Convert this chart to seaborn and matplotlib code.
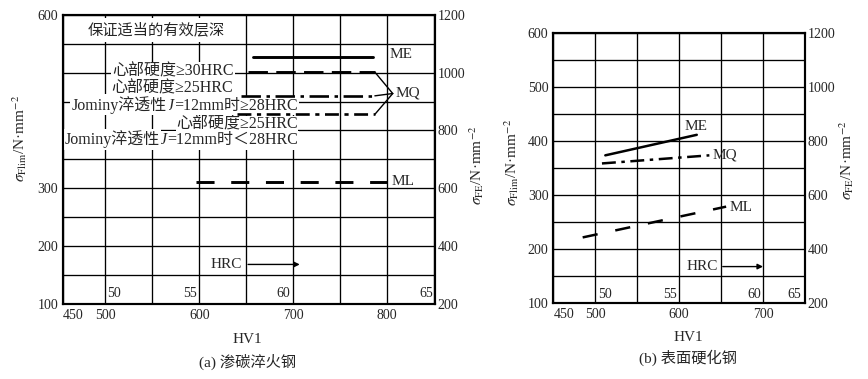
import matplotlib
matplotlib.use("Agg")
import matplotlib.pyplot as plt
from matplotlib.ticker import FixedLocator, MultipleLocator
import pandas as pd
import seaborn as sns

# ---------------- data ----------------
# (a) carburized & quenched steel
a_me_hv = [657, 785]
a_me_s = [527, 527]
a_mq1_hv = [652, 787]
a_mq1_s = [501, 501]
a_mq2_hv = [644, 787]
a_mq2_s = [460, 460]
a_mq3_hv = [640, 787]
a_mq3_s = [428, 428]
a_ml_hv = [597, 800]
a_ml_s = [310, 310]
# MQ bracket (three ends joined to one point)
a_brk_hv = [787, 806]
a_brk_s_ends = [501, 460, 428]
a_brk_s_join = 464

# (b) surface hardened steel
b_me_hv = [512, 621]
b_me_s = [374, 412]
b_mq_hv = [508, 636]
b_mq_s = [359, 374]
b_ml_hv = [485, 656]
b_ml_s = [222, 279]

a_xticks = [455, 500, 600, 700, 800]
a_xticklabels = ["450", "500", "600", "700", "800"]
b_xticks = [450, 500, 600, 700]
b_xticklabels = ["450", "500", "600", "700"]
a_yticks = [100, 200, 300, 600]
b_yticks = [100, 200, 300, 400, 500, 600]
fe_ticks = [200, 400, 600, 800, 1000, 1200]

hrc_labels = ["50", "55", "60", "65"]
a_hrc_hv = [502, 598, 697, 849]
b_hrc_hv = [503, 597, 698, 745]

# ---------------- style ----------------
sns.set_style("white")
plt.rcParams["font.family"] = ["Liberation Serif", "Noto Sans CJK SC"]
plt.rcParams["mathtext.fontset"] = "stix"
plt.rcParams["lines.scale_dashes"] = False
plt.rcParams["axes.unicode_minus"] = False

fig = plt.figure(figsize=(8.68, 3.79), dpi=100)
W, H = 868, 379


def place(l, r, t, b):
    return fig.add_axes([l / W, (H - b) / H, (r - l) / W, (b - t) / H])


axA = place(63, 435, 15, 303.7)
axB = place(553.3, 805, 33.3, 303.3)

TFS = 10
AFS = 11.5
LFS = 11


def draw(ax, hv, s, ls, lw):
    df = pd.DataFrame({"hv": hv, "s": s})
    sns.lineplot(data=df, x="hv", y="s", ax=ax, color="black", lw=lw,
                 linestyle=ls, sort=False, estimator=None, legend=False,
                 zorder=4)


def setup(ax, xlim, xticks, xtl, yticks):
    ax.set_xlim(*xlim)
    ax.set_ylim(100, 600)
    ax.xaxis.set_major_locator(FixedLocator(xticks))
    ax.set_xticklabels(xtl, fontsize=TFS)
    ax.xaxis.get_ticklabels()[0].set_ha("left")
    ax.xaxis.set_minor_locator(MultipleLocator(50))
    ax.yaxis.set_major_locator(FixedLocator(yticks))
    ax.set_yticklabels([str(v) for v in yticks], fontsize=TFS)
    ax.yaxis.set_minor_locator(MultipleLocator(50))
    ax.grid(True, which="both", color="black", lw=0.95)
    ax.set_axisbelow(True)
    ax.tick_params(which="both", length=0, pad=3.5)
    for sp in ax.spines.values():
        sp.set_color("black")
        sp.set_linewidth(1.5)
    tw = ax.twinx()
    tw.set_ylim(200, 1200)
    tw.yaxis.set_major_locator(FixedLocator(fe_ticks))
    tw.set_yticklabels([str(v) for v in fe_ticks], fontsize=TFS)
    tw.tick_params(length=0, pad=2)
    tw.grid(False)
    for sp in tw.spines.values():
        sp.set_color("black")
        sp.set_linewidth(1.5)
    ax.set_xlabel("")
    ax.set_ylabel("")
    return tw


twA = setup(axA, (455, 851), a_xticks, a_xticklabels, a_yticks)
twB = setup(axB, (450, 750), b_xticks, b_xticklabels, b_yticks)

ylab_flim = r"$\sigma_{\rm Flim}$/N·mm$^{-2}$"
ylab_fe = r"$\sigma_{\rm FE}$/N·mm$^{-2}$"


def labels(ax, tw, lx, ly, rx, ry, hx, cap):
    ax.set_ylabel(ylab_flim, fontsize=11)
    ax.yaxis.set_label_coords(lx, ly)
    ax.yaxis.label.set_va("center")
    tw.set_ylabel(ylab_fe, fontsize=11, rotation=90)
    tw.yaxis.set_label_coords(rx, ry)
    tw.yaxis.label.set_va("center")
    ax.set_xlabel("HV1", fontsize=11)
    ax.xaxis.set_label_coords(hx, -0.125)
    ax.xaxis.label.set_va("center")
    ax.text(hx, -0.2, cap, transform=ax.transAxes, ha="center", va="center",
            fontsize=11)


labels(axA, twA, -0.1156, 0.574, 1.112, 0.48, 0.496, "(a) 渗碳淬火钢")
labels(axB, twB, -0.165, 0.52, 1.166, 0.531, 0.535, "(b) 表面硬化钢")

# ---------------- panel (a) ----------------
draw(axA, a_me_hv, a_me_s, "-", 2.1)
draw(axA, a_mq1_hv, a_mq1_s, (0, (14, 6)), 2.1)
draw(axA, a_mq2_hv, a_mq2_s, (0, (14, 4, 2.5, 4)), 1.9)
draw(axA, a_mq3_hv, a_mq3_s, (0, (10, 4, 3, 4)), 1.9)
draw(axA, a_ml_hv, a_ml_s, (0, (13, 12)), 2.1)
for s_end in a_brk_s_ends:
    axA.plot(a_brk_hv, [s_end, a_brk_s_join], color="black", lw=1.0, zorder=4)

box = dict(facecolor="white", edgecolor="none", pad=1.0)
axA.text(554, 574, "保证适当的有效层深", ha="center", va="center", fontsize=LFS,
         bbox=dict(facecolor="white", edgecolor="none", pad=3))
axA.text(637, 502, "心部硬度≥30HRC", ha="right", va="center", fontsize=AFS, bbox=box)
axA.text(636, 473, "心部硬度≥25HRC", ha="right", va="center", fontsize=AFS, bbox=box)
axA.text(705, 411, "心部硬度≥25HRC", ha="right", va="center", fontsize=AFS,
         bbox=dict(facecolor="white", edgecolor="none", pad=0.3))


def jominy(ax, x, y, tail):
    t3 = ax.text(x, y, "=12mm时" + tail, ha="right", va="center",
                 fontsize=AFS, bbox=box)
    t2 = ax.annotate("J", xy=(0, 0), xycoords=t3, ha="right", va="bottom",
                     fontsize=AFS, style="italic", bbox=box)
    ax.annotate("Jominy淬透性", xy=(0, 0), xycoords=t2, ha="right",
                va="bottom", fontsize=AFS, bbox=box)


jominy(axA, 705, 443, "≥28HRC")
jominy(axA, 705, 383, "＜28HRC")

axA.text(803, 531, "ME", ha="left", va="center", fontsize=LFS)
axA.text(809, 465, "MQ", ha="left", va="center", fontsize=LFS)
axA.text(805, 312, "ML", ha="left", va="center", fontsize=LFS)

for lab, x, ha in zip(hrc_labels, a_hrc_hv, ["left", "right", "right", "right"]):
    axA.text(x, 117, lab, ha=ha, va="center", fontsize=TFS)
axA.text(645, 168, "HRC", ha="right", va="center", fontsize=LFS)
axA.annotate("", xy=(707, 168), xytext=(652, 168),
             arrowprops=dict(arrowstyle="-|>", color="black", lw=1.0,
                             mutation_scale=8, shrinkA=0, shrinkB=0))

# ---------------- panel (b) ----------------
draw(axB, b_me_hv, b_me_s, "-", 1.8)
draw(axB, b_mq_hv, b_mq_s, (0, (10, 4, 2.5, 4)), 1.8)
draw(axB, b_ml_hv, b_ml_s, (0, (11, 13)), 1.8)
axB.text(607, 428, "ME", ha="left", va="center", fontsize=LFS)
axB.text(640, 375, "MQ", ha="left", va="center", fontsize=LFS)
axB.text(660, 277, "ML", ha="left", va="center", fontsize=LFS)
for lab, x, ha in zip(hrc_labels, b_hrc_hv, ["left", "right", "right", "right"]):
    axB.text(x, 117, lab, ha=ha, va="center", fontsize=TFS)
axB.text(646, 168, "HRC", ha="right", va="center", fontsize=LFS)
axB.annotate("", xy=(700, 168), xytext=(652, 168),
             arrowprops=dict(arrowstyle="-|>", color="black", lw=1.0,
                             mutation_scale=8, shrinkA=0, shrinkB=0))

fig.savefig("out.png", dpi=100)
